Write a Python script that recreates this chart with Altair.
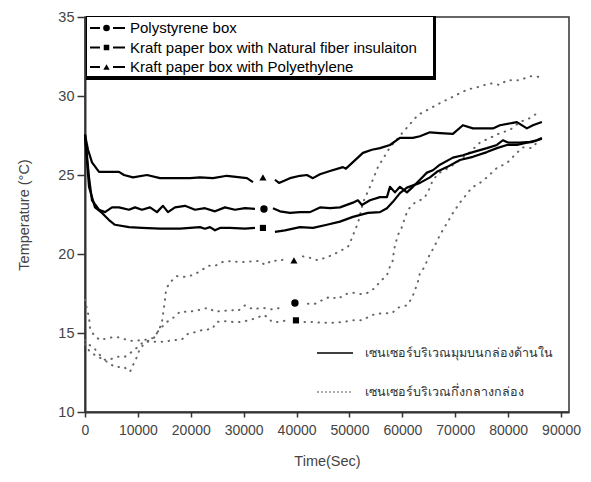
import altair as alt
import pandas as pd

# ---------------- data ----------------
X_TICKS = [0, 10000, 20000, 30000, 40000, 50000, 60000, 70000, 80000, 90000]
Y_TICKS = [10, 15, 20, 25, 30, 35]

box_keys = ["ps", "nf", "pe"]
box_labels = [
    "Polystyrene box",
    "Kraft paper box with Natural fiber insulaiton",
    "Kraft paper box with Polyethylene",
]
box_shapes = ["circle", "square", "triangle-up"]
sensor_labels = ["เซนเซอร์บริเวณมุมบนกล่องด้านใน", "เซนเซอร์บริเวณกึ่งกลางกล่อง"]

# corner sensor (solid lines): (time s, temperature C)
ps_corner = [(0, 27.55), (760, 24.85), (1320, 23.4), (2650, 22.8), (3780, 22.65), (5100, 22.95),
             (6430, 22.95), (8320, 22.8), (9450, 22.95), (10770, 22.8), (12290, 22.95), (13610, 22.65),
             (14740, 23.05), (15690, 22.65), (17010, 22.95), (18900, 23.05), (20790, 22.8), (22680, 22.9),
             (24570, 22.7), (26460, 22.95), (28350, 22.8), (30240, 22.9), (32130, 22.85), (35530, 22.9),
             (36860, 22.7), (38750, 22.6), (40640, 22.65), (42530, 22.65), (44420, 22.95), (46310, 22.9),
             (48200, 22.95), (50650, 23.25), (51600, 23.4), (52350, 23.1), (53870, 23.4), (55760, 23.6),
             (57080, 23.6), (57650, 24.25), (58590, 23.9), (59540, 24.25), (60860, 23.9), (61990, 24.25),
             (63320, 24.7), (64640, 25.15), (65770, 25.3), (67100, 25.65), (69550, 26.1), (71440, 26.25),
             (73330, 26.45), (75980, 26.7), (77870, 26.9), (79000, 27.2), (79950, 27.05), (82220, 27.05),
             (84110, 27.1), (85430, 27.2), (86370, 27.35)]
nf_corner = [(0, 27.55), (760, 24.25), (1890, 22.95), (3210, 22.6), (4540, 22.15), (5670, 21.85),
             (8320, 21.7), (10770, 21.65), (14180, 21.6), (17960, 21.6), (19850, 21.65), (21740, 21.7),
             (22680, 21.6), (23630, 21.7), (24570, 21.5), (25520, 21.65), (27410, 21.65), (30240, 21.6),
             (32130, 21.65), (35910, 21.4), (37800, 21.5), (40640, 21.7), (43090, 21.65), (45740, 21.85),
             (48200, 22.05), (50650, 22.35), (53490, 22.6), (55760, 22.65), (57080, 22.9), (58210, 23.3),
             (59540, 23.85), (60860, 24.2), (63320, 24.5), (65210, 24.85), (66530, 25.2), (68420, 25.5),
             (70880, 25.95), (73330, 26.15), (75980, 26.45), (77870, 26.7), (79760, 26.9), (81650, 26.9),
             (83540, 27.05), (84670, 27.1), (86370, 27.3)]
pe_corner = [(0, 27.55), (570, 26.6), (1320, 25.8), (2650, 25.2), (6430, 25.2), (7370, 25.0),
             (9070, 24.85), (11720, 25.0), (14180, 24.8), (19850, 24.8), (21740, 24.85), (24190, 24.8),
             (26840, 24.95), (30620, 24.8), (31750, 24.55), (35910, 24.7), (36670, 24.5), (38750, 24.8),
             (40640, 24.95), (41960, 25.0), (43090, 24.8), (44420, 25.05), (46310, 25.25), (48760, 25.5),
             (49330, 25.4), (52540, 26.4), (54240, 26.6), (55760, 26.7), (57650, 26.9), (59540, 27.35),
             (61990, 27.35), (63320, 27.45), (65210, 27.7), (67100, 27.65), (69550, 27.6), (71440, 28.15),
             (73330, 27.95), (77110, 27.95), (78440, 28.15), (80890, 28.3), (81650, 28.35), (83540, 27.95),
             (84670, 28.15), (86370, 28.35)]

# middle sensor (dotted lines)
ps_middle = [(0, 14.55), (380, 14.35), (1700, 14.05), (2840, 13.6), (3780, 13.3), (4540, 13.3),
             (6050, 13.5), (7560, 13.5), (9260, 13.9), (10770, 14.35), (12290, 14.55), (13040, 14.7),
             (13990, 15.2), (15500, 15.7), (16820, 16.0), (17960, 16.35), (19660, 16.35), (20790, 16.4),
             (22110, 16.5), (23250, 16.6), (24570, 16.35), (26080, 16.4), (27780, 16.45), (28920, 16.4),
             (30240, 16.75), (31750, 16.5), (33450, 16.6), (35340, 16.5), (37230, 16.6), (42150, 16.85),
             (43470, 16.85), (44980, 17.1), (46310, 17.3), (47820, 17.15), (49140, 17.45), (50650, 17.55),
             (52350, 17.45), (53490, 17.55), (54810, 17.85), (55760, 18.25), (57080, 18.65), (57650, 19.2),
             (58210, 19.6), (58400, 20.25), (58780, 20.75), (59160, 21.2), (59910, 21.7), (60480, 22.3),
             (61050, 22.8), (62370, 23.25), (63320, 23.4), (64260, 23.6), (65210, 24.2), (65770, 24.7),
             (67100, 25.15), (68990, 25.5), (70880, 25.95), (72770, 26.45), (74660, 27.05), (76550, 27.35),
             (78440, 27.65), (80320, 27.85), (82220, 28.35), (84110, 28.6), (85430, 28.9)]
nf_middle = [(0, 14.3), (950, 13.8), (1890, 13.6), (3590, 13.3), (5670, 12.85), (7370, 12.85),
             (8510, 12.55), (9260, 13.1), (9830, 13.5), (10400, 14.05), (11720, 14.45), (14930, 14.45),
             (16820, 14.55), (18330, 14.6), (19470, 14.95), (20790, 15.05), (22300, 15.2), (24000, 15.25),
             (24950, 15.7), (26460, 15.75), (27970, 15.7), (29670, 15.7), (30810, 15.8), (32510, 15.95),
             (33640, 16.15), (34590, 16.0), (35340, 15.7), (36480, 15.7), (38180, 15.8), (41500, 15.7),
             (43090, 15.7), (44980, 15.65), (46870, 15.65), (48760, 15.7), (50650, 15.8), (52350, 15.8),
             (53490, 16.0), (54810, 16.2), (56320, 16.25), (58020, 16.25), (59160, 16.6), (60860, 16.75),
             (61800, 17.2), (62370, 17.7), (62940, 18.25), (63320, 18.8), (64260, 19.2), (64830, 19.75),
             (66000, 20.45), (67100, 21.2), (68420, 21.95), (69550, 22.6), (70880, 23.25), (73140, 24.2),
             (74660, 24.5), (75980, 24.85), (77870, 25.45), (79760, 25.75), (81650, 26.4), (82780, 26.75),
             (84480, 26.7), (85430, 27.05), (85990, 27.2)]
pe_middle = [(0, 17.1), (380, 16.5), (760, 16.0), (950, 15.3), (1700, 14.85), (2840, 14.55),
             (4540, 14.7), (6050, 14.75), (7560, 14.6), (8880, 14.5), (10770, 14.55), (12100, 14.6),
             (13040, 14.7), (13990, 15.2), (14550, 15.7), (15120, 17.1), (15310, 17.7), (15880, 18.15),
             (17390, 18.6), (18900, 18.55), (20220, 18.65), (21740, 18.9), (23250, 19.25), (24570, 19.25),
             (26080, 19.5), (27410, 19.55), (28920, 19.5), (30620, 19.5), (31750, 19.55), (33080, 19.55),
             (34020, 19.3), (35340, 19.6), (36860, 19.55), (38180, 19.8), (41200, 19.85), (42150, 19.8),
             (44040, 19.6), (45740, 19.8), (46870, 19.95), (48570, 20.25), (49710, 20.45), (50460, 21.0),
             (51030, 21.5), (51600, 21.95), (52540, 23.25), (53870, 24.25), (55380, 25.5), (57650, 26.75),
             (60480, 27.85), (62940, 28.8), (64640, 29.1), (67100, 29.55), (69550, 29.95), (72200, 30.4),
             (74090, 30.55), (76550, 30.8), (78440, 30.7), (79760, 31.0), (82220, 31.0), (84110, 31.25),
             (85050, 31.25), (86000, 31.2)]

# marker positions on each curve (time s, temperature C)
marker_pts = {
    ("ps", "corner"): (33830, 22.85),
    ("nf", "corner"): (33640, 21.65),
    ("pe", "corner"): (33640, 24.85),
    ("ps", "middle"): (39690, 16.9),
    ("nf", "middle"): (39880, 15.8),
    ("pe", "middle"): (39500, 19.6),
}

series = {
    ("ps", "corner"): ps_corner, ("nf", "corner"): nf_corner, ("pe", "corner"): pe_corner,
    ("ps", "middle"): ps_middle, ("nf", "middle"): nf_middle, ("pe", "middle"): pe_middle,
}

rows = []
for (box, sensor), pts in series.items():
    mt = marker_pts[(box, sensor)][0]
    for t, v in pts:
        part = "a" if t < mt else "b"
        rows.append({"box": box, "sensor": sensor, "t": t, "v": v, "seg": f"{box}-{sensor}-{part}"})
df = pd.DataFrame(rows)

mk_df = pd.DataFrame([{"box": b, "sensor": s, "t": p[0], "v": p[1]} for (b, s), p in marker_pts.items()])

# ---------------- chart ----------------
FONT = "Liberation Sans"
xs = alt.Scale(domain=[0, 91500], nice=False, zero=False)
ys = alt.Scale(domain=[10, 35], nice=False, zero=False)

x_axis = alt.Axis(values=X_TICKS, format="d", grid=False, labelFontSize=14, labelColor="#444",
                  labelFont=FONT, tickSize=5, tickColor="#333", tickWidth=1.5, domainColor="#333",
                  domainWidth=2, labelPadding=6, titleFont=FONT, titleFontSize=14.5,
                  titleFontWeight="normal", titleColor="#444", titlePadding=17, labelFlush=False)
y_axis = alt.Axis(values=Y_TICKS, grid=False, labelFontSize=14.5, labelColor="#444", labelFont=FONT,
                  tickSize=8, tickColor="#333", tickWidth=1.5, domainColor="#333", domainWidth=2,
                  labelPadding=3, titleFont=FONT, titleFontSize=14.5, titleFontWeight="normal",
                  titleColor="#444", titlePadding=26)

X = alt.X("t:Q", scale=xs, axis=x_axis, title="Time(Sec)")
Y = alt.Y("v:Q", scale=ys, axis=y_axis, title="Temperature (°C)")

dotted = alt.Chart(df).transform_filter(alt.datum.sensor == "middle").mark_line(
    color="#666", strokeWidth=2, strokeDash=[0.5, 6.5], strokeCap="round"
).encode(x=X, y=Y, detail="seg:N", order="t:Q")

solid = alt.Chart(df).transform_filter(alt.datum.sensor == "corner").mark_line(
    color="black", strokeWidth=2.2, strokeJoin="round"
).encode(x=X, y=Y, detail="seg:N", order="t:Q")

marker_sizes = {"circle": 55, "square": 38, "triangle-up": 50}
marker_layers = []
for key, shp in zip(box_keys, box_shapes):
    marker_layers.append(
        alt.Chart(mk_df).transform_filter(alt.datum.box == key).mark_point(
            shape=shp, filled=True, color="black", opacity=1, size=marker_sizes[shp]
        ).encode(x=X, y=Y)
    )

one = pd.DataFrame({"k": [0]})

# legend box (with drop shadow)
legend_layers = [
    alt.Chart(one).mark_rect(color="black").encode(
        x=alt.value(1), x2=alt.value(351), y=alt.value(-1), y2=alt.value(63)),
    alt.Chart(one).mark_rect(color="white").encode(
        x=alt.value(2), x2=alt.value(348), y=alt.value(0), y2=alt.value(59)),
]
for i, (lab, shp) in enumerate(zip(box_labels, box_shapes)):
    ly = 11 + i * 19.5
    legend_layers += [
        alt.Chart(one).mark_rule(color="black", strokeWidth=2).encode(
            x=alt.value(5), x2=alt.value(15), y=alt.value(ly)),
        alt.Chart(one).mark_rule(color="black", strokeWidth=2).encode(
            x=alt.value(28), x2=alt.value(40), y=alt.value(ly)),
        alt.Chart(one).mark_point(shape=shp, filled=True, color="black", opacity=1,
                                  size=marker_sizes[shp] * 0.8).encode(
            x=alt.value(21.5), y=alt.value(ly)),
        alt.Chart(one).mark_text(text=lab, align="left", baseline="middle", font=FONT,
                                 fontSize=15, color="black").encode(
            x=alt.value(45), y=alt.value(ly)),
    ]

# sensor annotation (Thai)
note_layers = [
    alt.Chart(one).mark_rule(color="black", strokeWidth=1.5).encode(
        x=alt.value(232), x2=alt.value(268), y=alt.value(336)),
    alt.Chart(one).mark_text(text=sensor_labels[0], align="left", baseline="middle",
                             font="Noto Sans", fontSize=12.5, color="#333").encode(
        x=alt.value(280), y=alt.value(336)),
    alt.Chart(one).mark_rule(color="#555", strokeWidth=1, strokeDash=[2, 2]).encode(
        x=alt.value(232), x2=alt.value(268), y=alt.value(375)),
    alt.Chart(one).mark_text(text=sensor_labels[1], align="left", baseline="middle",
                             font="Noto Sans", fontSize=12.5, color="#333").encode(
        x=alt.value(280), y=alt.value(375)),
]

chart = alt.layer(dotted, solid, *marker_layers, *legend_layers, *note_layers).properties(
    width=484, height=395,
    autosize=alt.AutoSizeParams(type="none"),
    padding={"left": 77, "top": 9, "right": 14, "bottom": 60},
    background="white",
).configure_view(stroke="#333", strokeWidth=1.5)

chart.save("out.html", embed_options={"renderer": "svg", "actions": False})
